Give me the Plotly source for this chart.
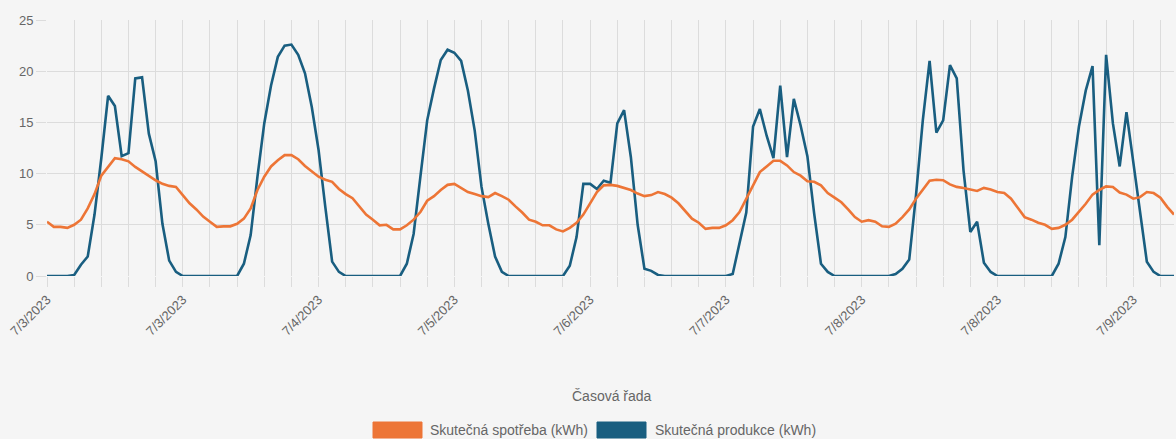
import plotly.graph_objects as go
import pandas as pd

# ---------------- data ----------------
start_time = "2023-07-03 00:00"

consumption = [
    5.3, 4.8, 4.8, 4.7, 5.0, 5.5, 6.6, 8.0, 9.8, 10.65,
    11.5, 11.4, 11.2, 10.65, 10.2, 9.8, 9.35, 9.0, 8.8, 8.7,
    7.9, 7.1, 6.5, 5.8, 5.3, 4.8, 4.85, 4.85, 5.1, 5.6,
    6.6, 8.4, 9.7, 10.7, 11.3, 11.8, 11.8, 11.4, 10.75, 10.2,
    9.7, 9.4, 9.2, 8.5, 8.0, 7.6, 6.8, 6.0, 5.5, 4.95,
    5.0, 4.55, 4.55, 4.95, 5.5, 6.25, 7.35, 7.8, 8.4, 8.9,
    9.0, 8.6, 8.2, 8.0, 7.8, 7.7, 8.1, 7.8, 7.45, 6.8,
    6.2, 5.5, 5.3, 4.95, 4.95, 4.55, 4.35, 4.7, 5.2, 6.0,
    7.1, 8.2, 8.85, 8.9, 8.8, 8.6, 8.4, 8.05, 7.8, 7.9,
    8.2, 8.0, 7.65, 7.1, 6.3, 5.6, 5.2, 4.6, 4.7, 4.7,
    4.95, 5.45, 6.25, 7.55, 9.0, 10.15, 10.7, 11.25, 11.25, 10.8,
    10.15, 9.8, 9.25, 9.2, 8.85, 8.1, 7.65, 7.2, 6.5, 5.75,
    5.3, 5.45, 5.3, 4.85, 4.8, 5.1, 5.75, 6.5, 7.55, 8.4,
    9.3, 9.4, 9.35, 8.95, 8.7, 8.6, 8.45, 8.3, 8.6, 8.45,
    8.2, 8.1, 7.55, 6.6, 5.75, 5.5, 5.2, 5.0, 4.6, 4.7,
    5.0, 5.5, 6.25, 7.05, 7.95, 8.4, 8.75, 8.7, 8.15, 7.95,
    7.55, 7.7, 8.2, 8.1, 7.65, 6.75, 6.0,
]

production = [
    0, 0, 0, 0, 0.1, 1.1, 1.9, 6.0, 11.5, 17.6,
    16.6, 11.7, 12.0, 19.3, 19.4, 13.9, 11.2, 5.1, 1.5, 0.4,
    0, 0, 0, 0, 0, 0, 0, 0, 0, 1.2,
    4.0, 9.7, 14.9, 18.6, 21.4, 22.5, 22.6, 21.6, 19.8, 16.5,
    12.3, 6.7, 1.4, 0.4, 0, 0, 0, 0, 0, 0,
    0, 0, 0, 1.2, 4.1, 9.7, 15.2, 18.3, 21.1, 22.1,
    21.8, 21.0, 18.1, 14.2, 8.7, 5.1, 1.9, 0.4, 0, 0,
    0, 0, 0, 0, 0, 0, 0, 1.0, 3.8, 9.0,
    9.0, 8.5, 9.3, 9.1, 14.9, 16.2, 11.6, 5.0, 0.7, 0.5,
    0.1, 0, 0, 0, 0, 0, 0, 0, 0, 0,
    0, 0.2, 3.3, 6.2, 14.6, 16.3, 13.7, 11.5, 18.6, 11.6,
    17.3, 14.7, 11.7, 6.1, 1.2, 0.4, 0, 0, 0, 0,
    0, 0, 0, 0, 0, 0.2, 0.7, 1.6, 7.9, 15.2,
    21.0, 14.0, 15.2, 20.6, 19.3, 10.3, 4.3, 5.3, 1.3, 0.4,
    0, 0, 0, 0, 0, 0, 0, 0, 0, 1.2,
    3.8, 9.7, 14.6, 18.1, 20.5, 3.0, 21.6, 14.9, 10.7, 16.0,
    11.0, 6.4, 1.4, 0.4, 0, 0, 0,
]

series_names = ["Skutečná spotřeba (kWh)", "Skutečná produkce (kWh)"]
x_title = "Časová řada"
y_ticks = [0, 5, 10, 15, 20, 25]

n = len(consumption)
timestamps = pd.date_range(start_time, periods=n, freq="h")
labels = [f"{t.month}/{t.day}/{t.year}" for t in timestamps]
tick_step = 20
tickvals = list(range(0, n, tick_step))
ticktext = [labels[i] for i in tickvals]
idx = list(range(n))

# ---------------- style ----------------
W, H = 1176, 439
ML, MR, MT, MB = 47, 2, 20, 163
PW, PH = W - ML - MR, H - MT - MB
ORANGE = "#ED7536"
BLUE = "#195E80"
GRID = "#dcdcdc"
TXT = "#666666"
BG = "#f5f5f5"
FONT = "Liberation Sans, Arial, Helvetica, sans-serif"


def px(xp):
    return (xp - ML) / PW


def py(yp):
    return (MT + PH - yp) / PH


fig = go.Figure()
fig.add_trace(go.Scatter(x=idx, y=production, mode="lines", name=series_names[1],
                         line=dict(color=BLUE, width=2.6), showlegend=False))
fig.add_trace(go.Scatter(x=idx, y=consumption, mode="lines", name=series_names[0],
                         line=dict(color=ORANGE, width=2.6), showlegend=False))

fig.update_layout(
    width=W, height=H, autosize=False,
    margin=dict(l=ML, r=MR, t=MT, b=MB, pad=0),
    paper_bgcolor=BG, plot_bgcolor=BG,
    font=dict(family=FONT, size=13, color=TXT),
    showlegend=False,
    xaxis=dict(
        range=[0, n - 1], tickmode="array", tickvals=tickvals, ticktext=ticktext,
        tickangle=-45, showgrid=True, gridcolor=GRID, gridwidth=1,
        ticks="outside", ticklen=10, tickcolor=GRID, tickwidth=1,
        minor=dict(dtick=4, tick0=0, showgrid=True, gridcolor=GRID, gridwidth=1,
                   ticks="outside", ticklen=10, tickcolor=GRID, tickwidth=1),
        zeroline=False, showline=False,
        tickfont=dict(size=13, color=TXT, family=FONT),
    ),
    yaxis=dict(
        range=[0, 25], tickmode="array", tickvals=y_ticks,
        showgrid=True, gridcolor=GRID, gridwidth=1,
        ticks="outside", ticklen=10, tickcolor=GRID,
        zeroline=False, showline=False,
        tickfont=dict(size=13, color=TXT, family=FONT),
    ),
)

# x axis title
fig.add_annotation(text=x_title, xref="paper", yref="paper",
                   x=px(612), y=py(396), xanchor="center", yanchor="middle",
                   showarrow=False, font=dict(size=14, color=TXT, family=FONT))

# legend (Chart.js-like boxes)
legend_items = [
    (series_names[0], ORANGE, 373, 428),
    (series_names[1], BLUE, 597, 653),
]
for name, col, bx, tx in legend_items:
    fig.add_shape(type="rect", xref="paper", yref="paper",
                  x0=px(bx), x1=px(bx + 49), y0=py(422), y1=py(438),
                  fillcolor=col, line=dict(color=col, width=1))
    fig.add_annotation(text=name, xref="paper", yref="paper",
                       x=px(tx), y=py(429.5), xanchor="left", yanchor="middle",
                       showarrow=False, font=dict(size=14, color=TXT, family=FONT))

fig.write_html("out.html",
               config={"displayModeBar": False},
               post_script="document.body.style.margin='0';document.body.style.overflow='hidden';")
